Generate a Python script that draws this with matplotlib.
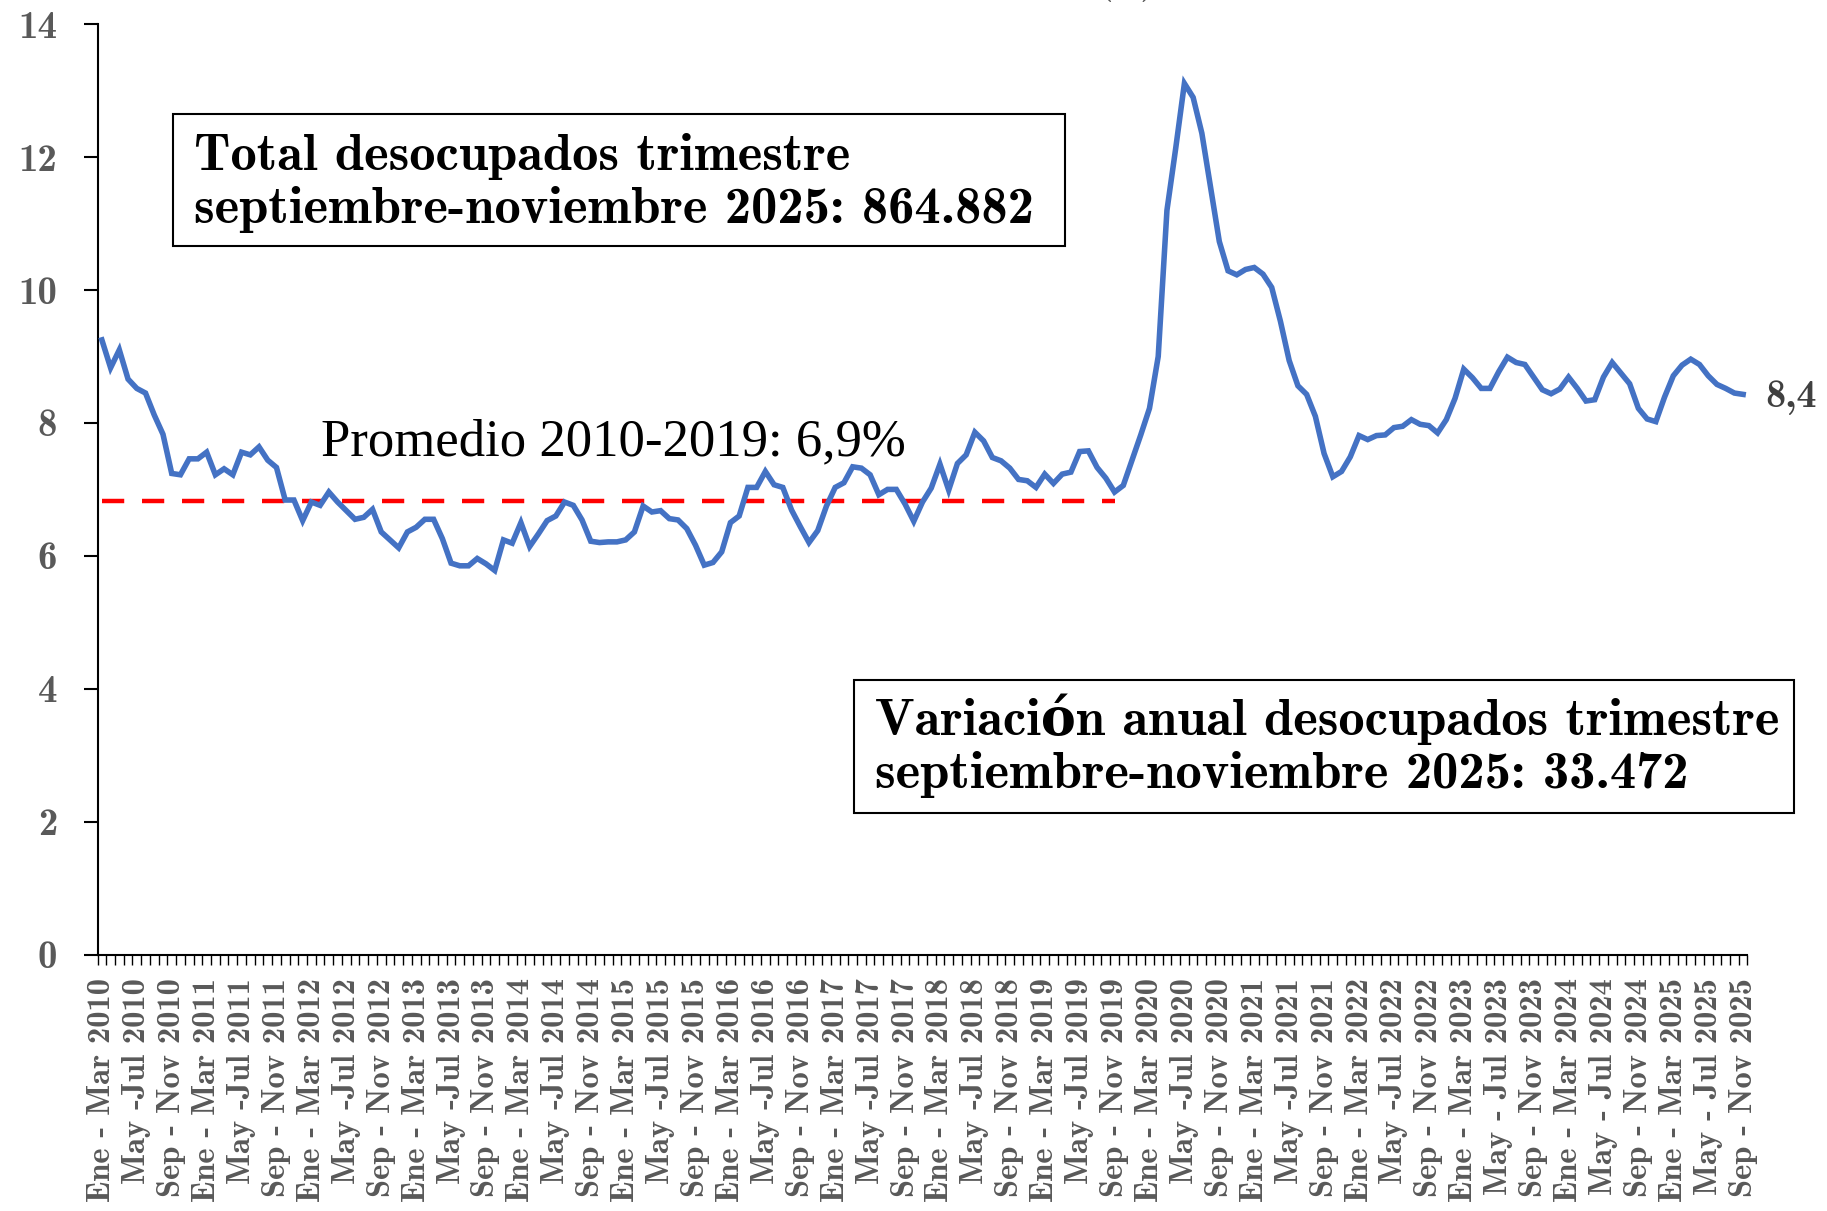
import matplotlib
matplotlib.use("Agg")
import matplotlib.pyplot as plt
from matplotlib.patches import Rectangle
import numpy as np

# ---------------- data ----------------
years = list(range(2010, 2026))
rate = [
    9.25, 8.83, 9.10, 8.66, 8.52, 8.45, 8.12, 7.83, 7.24, 7.22,
    7.46, 7.46, 7.56, 7.22, 7.31, 7.22, 7.56, 7.52, 7.64, 7.44,
    7.33, 6.84, 6.84, 6.53, 6.81, 6.76, 6.96, 6.81, 6.68, 6.55,
    6.58, 6.70, 6.36, 6.24, 6.12, 6.36, 6.43, 6.55, 6.55, 6.26,
    5.89, 5.85, 5.85, 5.96, 5.88, 5.78, 6.24, 6.19, 6.50, 6.14,
    6.33, 6.53, 6.60, 6.81, 6.76, 6.54, 6.22, 6.20, 6.21, 6.21,
    6.24, 6.36, 6.75, 6.66, 6.68, 6.56, 6.54, 6.41, 6.16, 5.86,
    5.90, 6.06, 6.50, 6.60, 7.03, 7.03, 7.27, 7.07, 7.03, 6.69,
    6.44, 6.20, 6.38, 6.75, 7.03, 7.10, 7.34, 7.32, 7.22, 6.92,
    7.00, 7.00, 6.78, 6.52, 6.81, 7.02, 7.38, 6.99, 7.39, 7.52,
    7.86, 7.73, 7.48, 7.43, 7.32, 7.15, 7.13, 7.03, 7.23, 7.09,
    7.23, 7.26, 7.57, 7.58, 7.33, 7.17, 6.96, 7.06, 7.44, 7.82,
    8.22, 9.00, 11.20, 12.13, 13.11, 12.90, 12.36, 11.55, 10.73, 10.29,
    10.23, 10.31, 10.34, 10.24, 10.04, 9.53, 8.94, 8.56, 8.43, 8.10,
    7.54, 7.19, 7.27, 7.49, 7.81, 7.75, 7.81, 7.82, 7.93, 7.95,
    8.05, 7.98, 7.96, 7.85, 8.05, 8.37, 8.81, 8.68, 8.52, 8.52,
    8.77, 8.99, 8.91, 8.88, 8.69, 8.50, 8.44, 8.51, 8.69, 8.52,
    8.33, 8.35, 8.69, 8.91, 8.75, 8.59, 8.22, 8.06, 8.02, 8.39,
    8.71, 8.87, 8.96, 8.88, 8.71, 8.58, 8.52, 8.45, 8.43,
]
avg_2010_2019 = 6.83
avg_label = "Promedio 2010-2019: 6,9%"
avg_last_year = 2019

tick_labels = []
for y in years:
    tick_labels.append(f"Ene - Mar {y}")
    tick_labels.append(f"May - Jul {y}" if y >= 2023 else f"May -Jul {y}")
    tick_labels.append(f"Sep - Nov {y}")

box1_lines = ["Total desocupados trimestre", "septiembre-noviembre 2025: 864.882"]
box2_lines = ["Variación anual desocupados trimestre", "septiembre-noviembre 2025: 33.472"]
title_tail = "(%)"

# ---------------- figure ----------------
W, H = 1827, 1211
fig = plt.figure(figsize=(W / 100, H / 100), dpi=100)

def fx(px):
    return px / W

def fy(py):
    return 1 - py / H

ax_left, ax_right, ax_top, ax_bottom = 97.5, 1747.5, 24.3, 954.5
ax = fig.add_axes([fx(ax_left), fy(ax_bottom), fx(ax_right - ax_left), (ax_bottom - ax_top) / H])

CM = ["cmb10", "DejaVu Serif"]
GRAY = "#595959"
BLUE = "#4472C4"

n = len(rate)
x = np.arange(n)
ax.plot(x, rate, color=BLUE, lw=4.0, solid_joinstyle="miter", zorder=3)

# series is monthly (rolling quarters starting Ene-Mar 2010); Sep-Nov of last avg year
end_idx = 12 * (avg_last_year - years[0]) + 8
ax.plot(x[: end_idx + 1], [avg_2010_2019] * (end_idx + 1), color="#FF0000", lw=3.2,
        dashes=(5.0, 4.0), zorder=2)

ax.set_xlim(-0.5, n - 0.5)
ax.set_ylim(0, 14)

for s in ["top", "right"]:
    ax.spines[s].set_visible(False)
for s in ["left", "bottom"]:
    ax.spines[s].set_linewidth(1.5)
    ax.spines[s].set_color("black")

ax.set_yticks(np.arange(0, 15, 2))
ax.set_yticklabels([str(v) for v in range(0, 15, 2)])
ax.tick_params(axis="y", length=10, width=1.5, pad=19, labelsize=28, labelcolor=GRAY)
for lab in ax.get_yticklabels():
    lab.set_family(CM)
    lab.set_fontweight("bold")

label_pos = x[::4]
ax.set_xticks(label_pos)
ax.set_xticklabels(tick_labels[: len(label_pos)], rotation=90)
ax.set_xticks(np.arange(-0.5, n, 1.0), minor=True)
ax.tick_params(axis="x", which="major", length=0, pad=17, labelsize=23.5, labelcolor=GRAY)
ax.tick_params(axis="x", which="minor", length=7.5, width=1.0)
for lab in ax.get_xticklabels():
    lab.set_family(CM)
    lab.set_fontweight("bold")

# last value label
last = rate[-1]
ax.annotate(f"{last:.1f}".replace(".", ","), xy=(x[-1], last), xytext=(16, -2),
            textcoords="offset points", va="center", ha="left",
            fontsize=29, family=CM, fontweight="bold", color="#404040")

# average label
fig.text(fx(321), fy(455), avg_label, family="Liberation Serif", fontsize=38,
         color="black", va="baseline", ha="left")

# boxes
def box(x0, y0, x1, y1, lines, tx, baselines):
    fig.patches.append(Rectangle((fx(x0), fy(y1)), fx(x1 - x0), (y1 - y0) / H,
                                 transform=fig.transFigure, fill=True, facecolor="white",
                                 edgecolor="black", lw=1.5, zorder=5))
    for t, b in zip(lines, baselines):
        fig.text(fx(tx), fy(b), t, family=CM, fontweight="bold", fontsize=37.8, color="black",
                 va="baseline", ha="left", zorder=6)

box(172.8, 113.6, 1065, 246.4, box1_lines, 194, [170, 223])
box(854, 680, 1794, 812.5, box2_lines, 875, [735, 788])

# title remnant peeking from the top edge
fig.text(fx(1100), 1 + 6 / H, title_tail, family=CM, fontweight="bold", fontsize=24,
         color=GRAY, va="baseline", ha="left")

fig.savefig("out.png", dpi=100)
